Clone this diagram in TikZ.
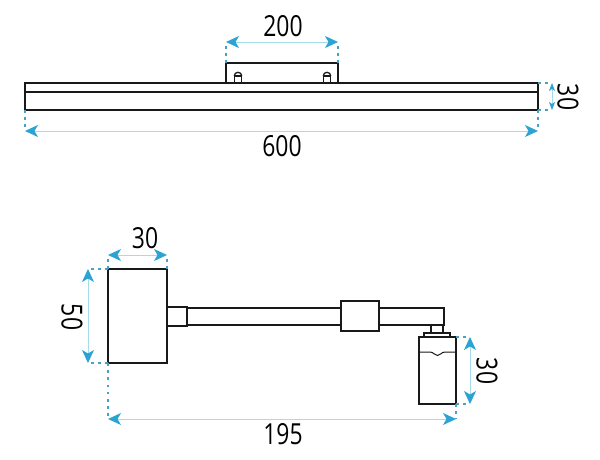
\documentclass[tikz,border=0pt]{standalone}
\usepackage{fontspec}
\setmainfont{Open Sans}
\usetikzlibrary{arrows.meta}
\usetikzlibrary{positioning}
\definecolor{dimblue}{HTML}{2BA3D3}
\definecolor{dimline}{HTML}{A5DCEC}
\definecolor{dimdots}{HTML}{4A9FC4}
\tikzset{part/.style={rectangle,draw=black!90,line width=1.3pt,inner sep=0pt,outer sep=0pt},
dimarrow/.style={dimline,line width=1pt,{Stealth[length=13pt,width=12pt,inset=3.5pt,color=dimblue]}-{Stealth[length=13pt,width=12pt,inset=3.5pt,color=dimblue]}},
dimsmall/.style={dimline,line width=0.8pt,{Stealth[length=8pt,width=6pt,inset=2pt,color=dimblue]}-{Stealth[length=8pt,width=6pt,inset=2pt,color=dimblue]}},
dimdot/.style={draw=dimdots,line width=2.6pt,dash pattern=on 2.6pt off 4.6pt},
dimtext/.style={font=\fontsize{29}{29}\selectfont,xscale=0.79,inner sep=0pt},
dimside/.style={font=\fontsize{29}{29}\selectfont,yscale=0.79,rotate=-90,inner sep=0pt}}
\begin{document}
\begin{tikzpicture}[x=1pt,y=-1pt]
\useasboundingbox (0,0) rectangle (600,459);
% top view
\node[part,minimum width=513,minimum height=27](bar) at (281.5,96.5){};
\draw[line width=1.3pt,black!90] (bar.west |- 0,92) -- (bar.east |- 0,92);
\draw[line width=1.8pt,black!90] (bar.south west) -- (bar.south east);
\node[part,minimum width=112,minimum height=20](plate) at (282,73){};
\foreach \sx/\nm in {238/one,327/two}{
\node[part,minimum width=7.5,minimum height=7,anchor=south](screw\nm) at (\sx,83){};
\draw[line width=1.3pt,black!90] (screw\nm.north west) arc (180:360:3.75);
}
\coordinate (wl) at (plate.north west |- 0,42);
\coordinate (wr) at (plate.north east |- 0,42);
\draw[dimarrow](wl) -- (wr);
\draw[dimdot](plate.north west) -- (wl);
\draw[dimdot](plate.north east) -- (wr);
\node[dimtext](w200) at (283,26){200};
\coordinate (hr) at (552,83);
\coordinate (hb) at (552,110);
\draw[dimsmall](hr) -- (hb);
\draw[dimdot](bar.north east) -- (hr);
\draw[dimdot](bar.south east) -- (hb);
\node[dimside](h30) at (568,97){30};
\coordinate (ll) at (bar.west |- 0,131);
\coordinate (lr) at (bar.east |- 0,131);
\draw[dimarrow](ll) -- (lr);
\draw[dimdot](bar.south west) -- (ll);
\draw[dimdot](bar.south east) -- (lr);
\node[dimtext](l600) at (282,146){600};
% side view
\node[part,minimum width=59,minimum height=94](box) at (137.5,316){};
\node[part,minimum width=20,minimum height=19](collar) at (177,316.5){};
\node[part,minimum width=38,minimum height=30](sleeve) at (360,316){};
\node[part,minimum width=37,minimum height=67](lamp) at (437.5,370.5){};
\node[part,minimum width=26,minimum height=4](flange) at (437,335){};
\node[part,minimum width=12,minimum height=8](stem) at (437,329){};
\draw[line width=1.3pt,black!90] (collar.north east |- 0,308) -- (sleeve.west |- 0,308);
\draw[line width=1.3pt,black!90] (collar.south east |- 0,325) -- (sleeve.west |- 0,325);
\draw[line width=1.3pt,black!90] (sleeve.east |- 0,308) -- (444,308) -- (444,325) -- (sleeve.east |- 0,325);
\draw[line width=1pt,black!90] (lamp.west |- 0,352) -- (430,352) .. controls (434,352) and (434,355.5) .. (437.5,355.5) .. controls (441,355.5) and (441,352) .. (445,352) -- (lamp.east |- 0,352);
\coordinate (dl) at (box.north west |- 0,255);
\coordinate (dr) at (box.north east |- 0,255);
\draw[dimarrow](dl) -- (dr);
\draw[dimdot](box.north west) -- (dl);
\draw[dimdot](box.north east) -- (dr);
\node[dimtext](d30) at (145,238){30};
\coordinate (bt) at (88,269);
\coordinate (bb) at (88,363);
\draw[dimarrow](bt) -- (bb);
\draw[dimdot](box.north west) -- (bt);
\draw[dimdot](box.south west) -- (bb);
\node[dimside](b50) at (72,317){50};
\coordinate (ct) at (470,337);
\coordinate (cb) at (470,404);
\draw[dimarrow](ct) -- (cb);
\draw[dimdot](lamp.north east) -- (ct);
\draw[dimdot](lamp.south east) -- (cb);
\node[dimside](c30) at (487,371){30};
\coordinate (al) at (box.west |- 0,419);
\coordinate (ar) at (lamp.east |- 0,419);
\draw[dimarrow](al) -- (ar);
\draw[dimdot](box.south west) -- (al);
\draw[dimdot](lamp.south east) -- (ar);
\node[dimtext](a195) at (283,434){195};
\end{tikzpicture}
\end{document}
